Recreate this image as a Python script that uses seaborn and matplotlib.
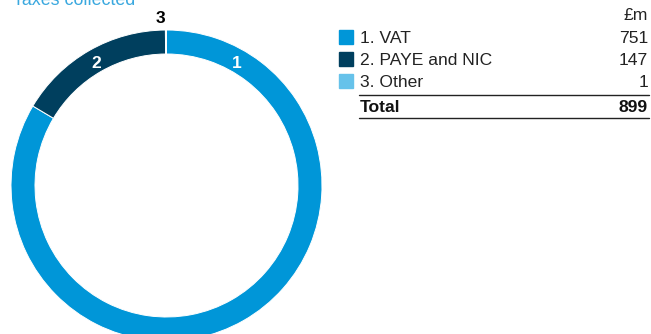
import numpy as np
import matplotlib
matplotlib.use("Agg")
import matplotlib.pyplot as plt
import seaborn as sns

sns.set_theme(style="white")
plt.rcParams["font.family"] = ["Liberation Sans", "DejaVu Sans"]

# Taxes collected, £m
categories = ["1. VAT", "2. PAYE and NIC", "3. Other"]
short_labels = ["1", "2", "3"]
values = [751, 147, 1]
total_label = "Total"
total_value = 899
unit_label = "£m"
title = "Taxes collected"

colors = ["#0096d8", "#003f5e", "#66c2ea"]

W, H = 651, 334
fig = plt.figure(figsize=(W / 100, H / 100), dpi=100)

def px_axes(x0, y0, w, h):
    return fig.add_axes([x0 / W, 1 - (y0 + h) / H, w / W, h / H])

# Donut
R = 155.5
cx, cy = 166.5, 185.5
ax = px_axes(cx - R, cy - R, 2 * R, 2 * R)
ring = 24 / R
wedges, _ = ax.pie(values, colors=colors, startangle=90, counterclock=False,
                   radius=1.0, wedgeprops=dict(width=ring, edgecolor="white", linewidth=0.7))
ax.set_xlim(-1, 1)
ax.set_ylim(-1, 1)
ax.set_aspect("equal")
ax.axis("off")

# Segment numbers
mid_r = 1 - ring / 2
for w, lab, i in zip(wedges, short_labels, range(len(wedges))):
    t1, t2 = w.theta1, w.theta2
    if i == 0:
        ang = 60.0  # near the top of the VAT segment
        r, col = mid_r - 0.02, "white"
    elif i == 1:
        ang = (t1 + t2) / 2
        r, col = mid_r - 0.02, "white"
    else:
        ang = (t1 + t2) / 2 + 2.0
        r, col = 1.075, "black"
    a = np.deg2rad(ang)
    ax.text(r * np.cos(a), r * np.sin(a), lab, ha="center", va="center",
            fontsize=12.5, fontweight="bold", color=col, clip_on=False)

# Title (partly cut by the top edge)
fig.text(13 / W, 1 - 5 / H, title, ha="left", va="baseline", fontsize=12.9, color="#3aa8df")

# Legend table
tx = fig.transFigure
def fy(y):
    return 1 - y / H

fs = 12.6
fig.text(648 / W, fy(20), unit_label, ha="right", va="baseline", fontsize=fs, color="#222222")
row_y = [43, 65, 87]
for cat, val, col, y in zip(categories, values, colors, row_y):
    fig.patches.append(plt.Rectangle((339 / W, fy(y + 0.5)), 14 / W, 14 / H,
                                     transform=tx, color=col, figure=fig))
    fig.text(360 / W, fy(y), cat, ha="left", va="baseline", fontsize=fs, color="#222222")
    fig.text(648 / W, fy(y), f"{val}", ha="right", va="baseline", fontsize=fs, color="#222222")

fig.lines.append(plt.Line2D([359 / W, 649 / W], [fy(95), fy(95)], transform=tx,
                            color="#222222", linewidth=1.0, figure=fig))
fig.text(360 / W, fy(112), total_label, ha="left", va="baseline", fontsize=fs,
         fontweight="bold", color="#111111")
fig.text(648 / W, fy(112), f"{total_value}", ha="right", va="baseline", fontsize=fs,
         fontweight="bold", color="#111111")
fig.lines.append(plt.Line2D([359 / W, 649 / W], [fy(117.5), fy(117.5)], transform=tx,
                            color="#222222", linewidth=1.0, figure=fig))

fig.savefig("out.png", dpi=100)
